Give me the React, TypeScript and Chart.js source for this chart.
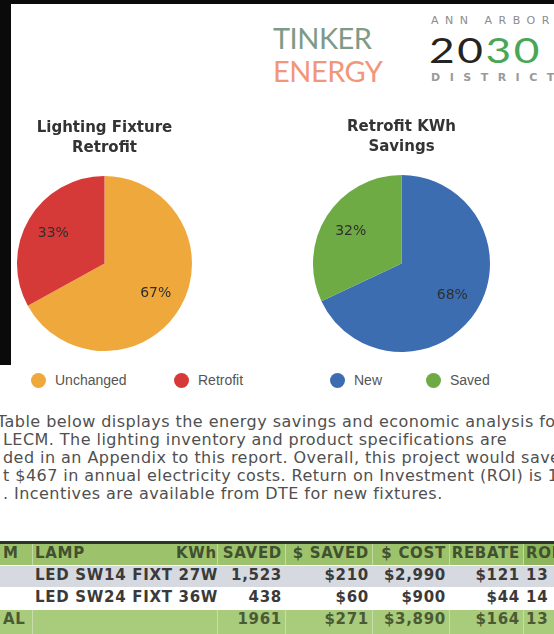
import React, { useEffect, useRef } from 'react';
import { Chart, registerables } from 'chart.js';

Chart.register(...registerables);

// ---------- data ----------
const fixtureTitle = ['Lighting Fixture', 'Retrofit'];
const fixtureLabels = ['Unchanged', 'Retrofit'];
const fixtureValues = [67, 33];
const fixtureColors = ['#EFA83C', '#D63A38'];

const savingsTitle = ['Retrofit KWh', 'Savings'];
const savingsLabels = ['New', 'Saved'];
const savingsValues = [68, 32];
const savingsColors = ['#3C6DB1', '#6EAB45'];

const paragraphLines = [
  'Table below displays the energy savings and economic analysis for',
  'LECM. The lighting inventory and product specifications are',
  'ded in an Appendix to this report. Overall, this project would save',
  't $467 in annual electricity costs. Return on Investment (ROI) is 11.',
  '. Incentives are available from DTE for new fixtures.',
];

const tableHeaders = ['M', 'LAMP', 'KWh SAVED', '$ SAVED', '$ COST', 'REBATE', 'ROI'];
const lampNames = ['LED SW14 FIXT 27W', 'LED SW24 FIXT 36W'];
const kwhSaved = ['1,523', '438'];
const dollarsSaved = ['$210', '$60'];
const dollarsCost = ['$2,990', '$900'];
const rebates = ['$121', '$44'];
const roiValues = ['13', '14'];
const totalRow = ['AL', '', '1961', '$271', '$3,890', '$164', '13'];

// ---------- plugin: percentage labels inside slices ----------
const pctLabels = {
  id: 'pctLabels',
  afterDatasetsDraw(chart: any) {
    const ctx = chart.ctx;
    const ds = chart.data.datasets[0];
    const meta = chart.getDatasetMeta(0);
    ctx.save();
    ctx.font = '14px "DejaVu Sans"';
    ctx.fillStyle = '#2f2f2f';
    ctx.textAlign = 'center';
    ctx.textBaseline = 'middle';
    meta.data.forEach((arc: any, i: number) => {
      const p = arc.getProps(['x', 'y', 'startAngle', 'endAngle', 'outerRadius'], true);
      const mid = (p.startAngle + p.endAngle) / 2;
      const r = p.outerRadius * 0.68;
      ctx.fillText(ds.data[i] + '%', p.x + Math.cos(mid) * r, p.y + Math.sin(mid) * r);
    });
    ctx.restore();
  },
};

type PieProps = {
  left: number; top: number; width: number; height: number;
  title: string[]; labels: string[]; values: number[]; colors: string[];
  padTop: number; padBottom: number;
};

function PieChart(props: PieProps) {
  const ref = useRef<HTMLCanvasElement | null>(null);
  useEffect(() => {
    if (!ref.current) return;
    const chart = new Chart(ref.current, {
      type: 'pie',
      data: {
        labels: props.labels,
        datasets: [{ data: props.values, backgroundColor: props.colors, borderWidth: 0 }],
      },
      options: {
        animation: false,
        responsive: false,
        maintainAspectRatio: false,
        layout: { padding: 0 },
        plugins: {
          legend: { display: false },
          tooltip: { enabled: false },
          title: {
            display: true,
            text: props.title,
            color: '#333333',
            font: { family: 'DejaVu Sans', size: 15, weight: 'bold', lineHeight: 20 / 15 },
            padding: { top: props.padTop, bottom: props.padBottom },
          },
        },
      } as any,
      plugins: [pctLabels],
    });
    return () => chart.destroy();
  }, []);
  return (
    <canvas
      ref={ref}
      width={props.width}
      height={props.height}
      style={{ position: 'absolute', left: props.left, top: props.top, width: props.width, height: props.height }}
    />
  );
}

const abs = (o: any) => ({ position: 'absolute' as const, ...o });

const colEdges = [0, 32, 217, 285, 372, 449, 523, 560];
const colAlign = ['left', 'left', 'right', 'right', 'right', 'right', 'left'];

function Cell({ text, col, top, height, color }: any) {
  const l = colEdges[col];
  const w = colEdges[col + 1] - l;
  const align = colAlign[col];
  return (
    <div
      style={abs({
        left: align === 'left' ? l + 3 : l - 60,
        width: align === 'left' ? w + 60 : w + 60 - 3,
        top,
        height,
        lineHeight: height + 'px',
        textAlign: align,
        whiteSpace: 'nowrap',
        font: 'bold 15px "DejaVu Sans"',
        letterSpacing: '0.7px',
        color,
      })}
    >
      {text}
    </div>
  );
}

export default function App() {
  const rowTops = [544, 566, 588, 610];
  const rowH = [21, 21, 21, 24];
  const rowBg = ['#9CC36C', '#D6D9DF', '#FFFFFF', '#A8CC7C'];

  const legendItems = [
    { label: fixtureLabels[0], color: fixtureColors[0], x: 38 },
    { label: fixtureLabels[1], color: fixtureColors[1], x: 181 },
    { label: savingsLabels[0], color: savingsColors[0], x: 337 },
    { label: savingsLabels[1], color: savingsColors[1], x: 433 },
  ];

  const dataRows = lampNames.map((n, i) => ['', n, kwhSaved[i], dollarsSaved[i], dollarsCost[i], rebates[i], roiValues[i]]);

  return (
    <div style={abs({ left: 0, top: 0, width: 554, height: 634, overflow: 'hidden', background: '#FFFFFF', fontFamily: 'DejaVu Sans' })}>
      {/* screenshot frame */}
      <div style={abs({ left: 0, top: 0, width: 554, height: 4, background: '#0A0A0A' })} />
      <div style={abs({ left: 0, top: 0, width: 11, height: 365, background: '#0A0A0A' })} />

      {/* logos */}
      <div style={abs({ left: 273, top: 22, font: '29px Lato', lineHeight: '32px', color: '#7E9A88', letterSpacing: '-0.5px' })}>TINKER</div>
      <div style={abs({ left: 273, top: 55, font: '29px Lato', lineHeight: '32px', color: '#F2967A', letterSpacing: '-0.5px' })}>ENERGY</div>
      <div style={abs({ left: 431, top: 15, font: '11px "DejaVu Sans"', lineHeight: '12px', color: '#8C8C8C', letterSpacing: '6.5px', whiteSpace: 'nowrap' })}>ANN ARBOR</div>
      <div style={abs({ left: 429, top: 33, font: '34px Lato', lineHeight: '34px', letterSpacing: '2px', whiteSpace: 'nowrap', transform: 'scaleX(1.3)', transformOrigin: 'left top' })}>
        <span style={{ color: '#232323' }}>20</span>
        <span style={{ color: '#48A654' }}>30</span>
      </div>
      <div style={abs({ left: 431, top: 72, font: 'bold 11px "DejaVu Sans"', lineHeight: '12px', color: '#9A9A9A', letterSpacing: '9.5px', whiteSpace: 'nowrap' })}>DISTRICT</div>

      {/* pies */}
      <PieChart left={17} top={108} width={175} height={243} title={fixtureTitle} labels={fixtureLabels}
        values={fixtureValues} colors={fixtureColors} padTop={10} padBottom={18} />
      <PieChart left={313} top={108} width={177} height={244} title={savingsTitle} labels={savingsLabels}
        values={savingsValues} colors={savingsColors} padTop={9} padBottom={18} />

      {/* legend */}
      {legendItems.map((it) => (
        <React.Fragment key={it.label}>
          <div style={abs({ left: it.x - 7.5, top: 372.5, width: 15, height: 15, borderRadius: '50%', background: it.color })} />
          <div style={abs({ left: it.x + 17, top: 371, font: '14px "Liberation Sans"', lineHeight: '18px', color: '#555555', whiteSpace: 'nowrap' })}>{it.label}</div>
        </React.Fragment>
      ))}

      {/* paragraph */}
      {paragraphLines.map((t, i) => (
        <div key={i} style={abs({ left: i === 0 ? -3 : 3, top: 413 + i * 18, font: '16px "DejaVu Sans"', letterSpacing: '0.45px', lineHeight: '18px', color: '#505050', whiteSpace: 'nowrap' })}>{t}</div>
      ))}

      {/* table */}
      <div style={abs({ left: 0, top: 541, width: 554, height: 3, background: '#2B3426' })} />
      {rowTops.map((t, r) => (
        <div key={'bg' + r} style={abs({ left: 0, top: t, width: 554, height: rowH[r], background: rowBg[r] })} />
      ))}
      <div style={abs({ left: 523, top: 544, width: 31, height: 21, background: '#8DB65C' })} />
      {[32, 217, 285, 372, 449, 523].map((x) => (
        <React.Fragment key={'sep' + x}>
          <div style={abs({ left: x, top: 544, width: 1, height: 21, background: '#C2DAA4' })} />
          <div style={abs({ left: x, top: 610, width: 1, height: 24, background: '#C7DDAB' })} />
        </React.Fragment>
      ))}
      {tableHeaders.map((h, c) => (
        <Cell key={'h' + c} text={h} col={c} top={rowTops[0]} height={rowH[0]} color="#42502F" />
      ))}
      {dataRows.map((row, r) =>
        row.map((v, c) => (
          <Cell key={'r' + r + c} text={v} col={c} top={rowTops[r + 1]} height={rowH[r + 1]} color="#3A3A3A" />
        ))
      )}
      {totalRow.map((v, c) => (
        <Cell key={'t' + c} text={v} col={c} top={rowTops[3]} height={rowH[3]} color="#4A5A35" />
      ))}
    </div>
  );
}
